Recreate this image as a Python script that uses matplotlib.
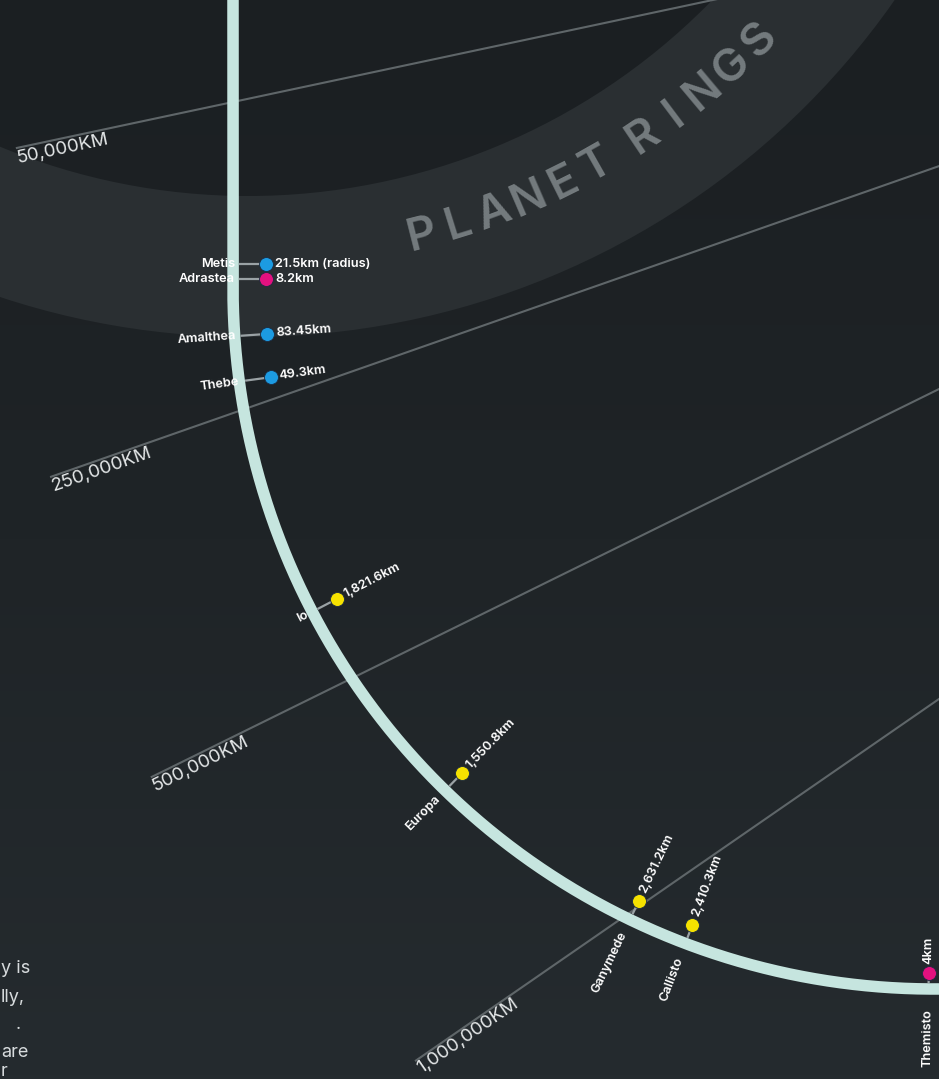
import numpy as np
import matplotlib.pyplot as plt
from matplotlib.patches import Wedge
from matplotlib.colors import LinearSegmentedColormap

plt.rcParams['font.family'] = ['Inter', 'DejaVu Sans']

# --- data -------------------------------------------------------------
moon_names = ['Metis', 'Adrastea', 'Amalthea', 'Thebe', 'Io', 'Europa',
              'Ganymede', 'Callisto', 'Themisto']
moon_dist_km = [128000, 129000, 181400, 221900, 421700, 671100,
                1070400, 1882700, 7507000]
moon_radius_labels = ['21.5km (radius)', '8.2km', '83.45km', '49.3km',
                      '1,821.6km', '1,550.8km', '2,631.2km', '2,410.3km', '4km']
moon_class = ['inner', 'small', 'inner', 'inner', 'galilean', 'galilean',
              'galilean', 'galilean', 'small']

grid_km = [50000, 250000, 500000, 1000000]
grid_labels = ['50,000KM', '250,000KM', '500,000KM', '1,000,000KM']

ring_label = 'PLANET RINGS'
note_lines = ['y is', 'lly,', '.', 'are', 'r']

# --- layout / style ----------------------------------------------------
W, H = 939, 1079
class_colors = {'inner': '#1c9be2', 'small': '#e3117f', 'galilean': '#f6e200'}

# distance -> position along the orbit path (power scale, piecewise)
scale_km = [50000, 250000, 500000, 1000000, 2000000, 10000000]
scale_pos = [102, 410, 702, 1068, 1142, 1450]
POW = 0.3

C = np.array([934.0, 288.0])      # centre of the curved part of the path
R = 701.0
JUP = np.array([2500.0, -380.0])  # planet centre, off canvas
spoke_len = [222, 205, 224, 254]  # how far each spoke runs past the path
RING_C = (248.0, -452.0)


def km_to_pos(d):
    return np.interp(np.power(d, POW), np.power(scale_km, POW), scale_pos)


def path_point(s):
    s = np.asarray(s, dtype=float)
    phi = np.clip((s - C[1]) / R, 0, None)
    x = np.where(s <= C[1], C[0] - R, C[0] - R * np.cos(phi))
    y = np.where(s <= C[1], s, C[1] + R * np.sin(phi))
    return x, y, phi


fig = plt.figure(figsize=(W / 100, H / 100), dpi=100)
ax = fig.add_axes([0, 0, 1, 1])
ax.set_xlim(0, W)
ax.set_ylim(H, 0)
ax.axis('off')

# background
bg_cmap = LinearSegmentedColormap.from_list('bg', ['#1b1f22', '#1f2427', '#252b2f'])
ax.imshow(np.linspace(0, 1, 256).reshape(-1, 1), extent=[0, W, H, 0],
          aspect='auto', cmap=bg_cmap, zorder=0)

# planet ring band
ax.add_patch(Wedge(RING_C, 789, 0, 360, width=141, facecolor='#2a2f32',
                   edgecolor='none', zorder=1))

# curved ring label
ang = 75.8
for ch in ring_label:
    if ch == ' ':
        ang -= 1.4
        continue
    a = np.radians(ang)
    ax.text(RING_C[0] + 709 * np.cos(a), RING_C[1] + 709 * np.sin(a), ch,
            rotation=90 - ang, ha='center', va='center', rotation_mode='anchor',
            fontsize=33, fontweight='semibold', color='#747b7e', zorder=2)
    ang -= 3.05

# distance spokes
for d, lab, ext in zip(grid_km, grid_labels, spoke_len):
    px, py, _ = path_point(km_to_pos(d))
    p = np.array([float(px), float(py)])
    u = (p - JUP) / np.linalg.norm(p - JUP)
    start = p + ext * u
    end = p - 3000 * u
    ax.plot([start[0], end[0]], [start[1], end[1]], color='#5f6669', lw=1.5,
            zorder=2, solid_capstyle='butt')
    rot = np.degrees(np.arctan2(u[1], -u[0]))
    ax.text(start[0] - 1, start[1] + 2, lab, rotation=rot, rotation_mode='anchor',
            ha='left', va='top', fontsize=13.5, color='#e4e7e8', zorder=2)

# orbit path
s_line = np.linspace(-30, 1460, 1500)
lx, ly, _ = path_point(s_line)
ax.plot(lx, ly, color='#c6e5df', lw=8.3, zorder=3, solid_capstyle='butt')

# moons
pos = km_to_pos(moon_dist_km)
for i in range(1, len(pos)):
    pos[i] = max(pos[i], pos[i - 1] + 15)

for name, s, lab, cls in zip(moon_names, pos, moon_radius_labels, moon_class):
    px, py, phi = path_point(s)
    p = np.array([float(px), float(py)])
    phi = float(phi)
    n = np.array([np.cos(phi), -np.sin(phi)])
    frac = phi / (np.pi / 2)
    dot_off = 33 - 17 * frac
    name_gap = -2 + 22 * frac
    a = p + 7 * n
    dot = p + dot_off * n
    ax.plot([a[0], dot[0]], [a[1], dot[1]], color='#9aa2a5', lw=1.6, zorder=4)
    ax.scatter([dot[0]], [dot[1]], s=100, color=class_colors[cls],
               edgecolor='#1b2a40', linewidth=0.6, zorder=5)
    rot = np.degrees(phi)
    tp = dot + 9 * n
    ax.text(tp[0], tp[1], lab, rotation=rot, rotation_mode='anchor',
            ha='left', va='center', fontsize=9.2, fontweight='semibold',
            color='white', zorder=6)
    npnt = p - name_gap * n
    ax.text(npnt[0], npnt[1], name, rotation=rot, rotation_mode='anchor',
            ha='right', va='center', fontsize=9.2, fontweight='semibold',
            color='white', zorder=6)

# paragraph running in from the left edge (only its line ends show)
note_x = [1, 1, 16, 1, 1]
note_y = [973, 1002, 1029, 1057, 1076]
for txt, nx, ny in zip(note_lines, note_x, note_y):
    ax.text(nx, ny, txt, ha='left', va='baseline', fontsize=13,
            color='#d7dbdd', zorder=2)

fig.savefig('out.png', dpi=100, facecolor='#1f2427')
